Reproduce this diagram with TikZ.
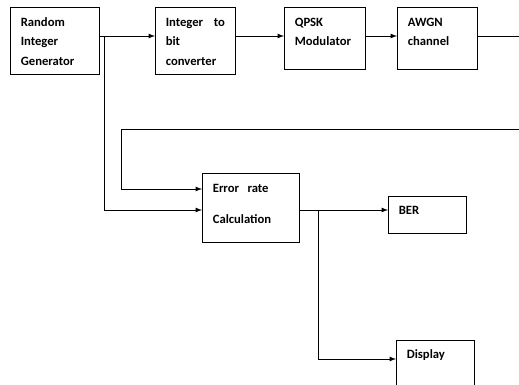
\documentclass[tikz,border=0pt]{standalone}
\usepackage{fontspec}
\setmainfont{Carlito}
\usetikzlibrary{arrows, positioning, calc}

\begin{document}
\begin{tikzpicture}[x=0.025cm, y=-0.025cm, >=latex, line width=0.6pt,
    font=\fontsize{9pt}{13.8pt}\selectfont\bfseries,
    blk/.style={draw, anchor=north west, align=left, inner xsep=0.26cm,
      inner ysep=0pt, text height=0.475cm}]
    \clip (0,0) rectangle (519,385);

    % transmitter chain
    \node[blk, text width=1.705cm, text depth=1.2cm] (rig) at (10,7) {Random\\Integer\\Generator};
    \node[blk, text width=1.48cm, text depth=1.2cm] (i2b) at (155,7) {Integer \hfill to\\bit\\converter};
    \node[blk, text width=1.505cm, text depth=1.075cm] (qpsk) at (284,7) {QPSK\\Modulator};
    \node[blk, text width=1.48cm, text depth=1.075cm] (awgn) at (397,7) {AWGN\\channel};

    % receiver side
    \node[blk, text width=1.905cm, text depth=1.25cm] (err) at (202,173) {Error~~rate\\[8.2pt]Calculation};
    \node[blk, text width=1.43cm, text depth=0.475cm, text height=0.45cm] (ber) at (388,196) {BER};
    \node[blk, text width=1.43cm, text depth=1.05cm, text height=0.45cm] (disp) at (396,340) {Display};

    \coordinate (sig) at (0,36);
    \coordinate (out) at (519,36);
    \coordinate (back) at (519,129);
    \coordinate (tap) at (104,36);
    \coordinate (fbk) at (121,129);
    \coordinate (in1) at (0,189);
    \coordinate (res) at (318,210);
    \coordinate (in2) at (0,359);

    \draw[->] (rig.east |- sig) -- (i2b.west |- sig);
    \draw[->] (i2b.east |- sig) -- (qpsk.west |- sig);
    \draw[->] (qpsk.east |- sig) -- (awgn.west |- sig);
    \draw (awgn.east |- sig) -- (out);

    \draw[->] (back) -- (fbk) |- (err.west |- in1);
    \draw[->] (tap) |- (err.west |- res);
    \draw[->] (err.east |- res) -- (ber.west |- res);
    \draw[->] (res) |- (disp.west |- in2);
\end{tikzpicture}
\end{document}
